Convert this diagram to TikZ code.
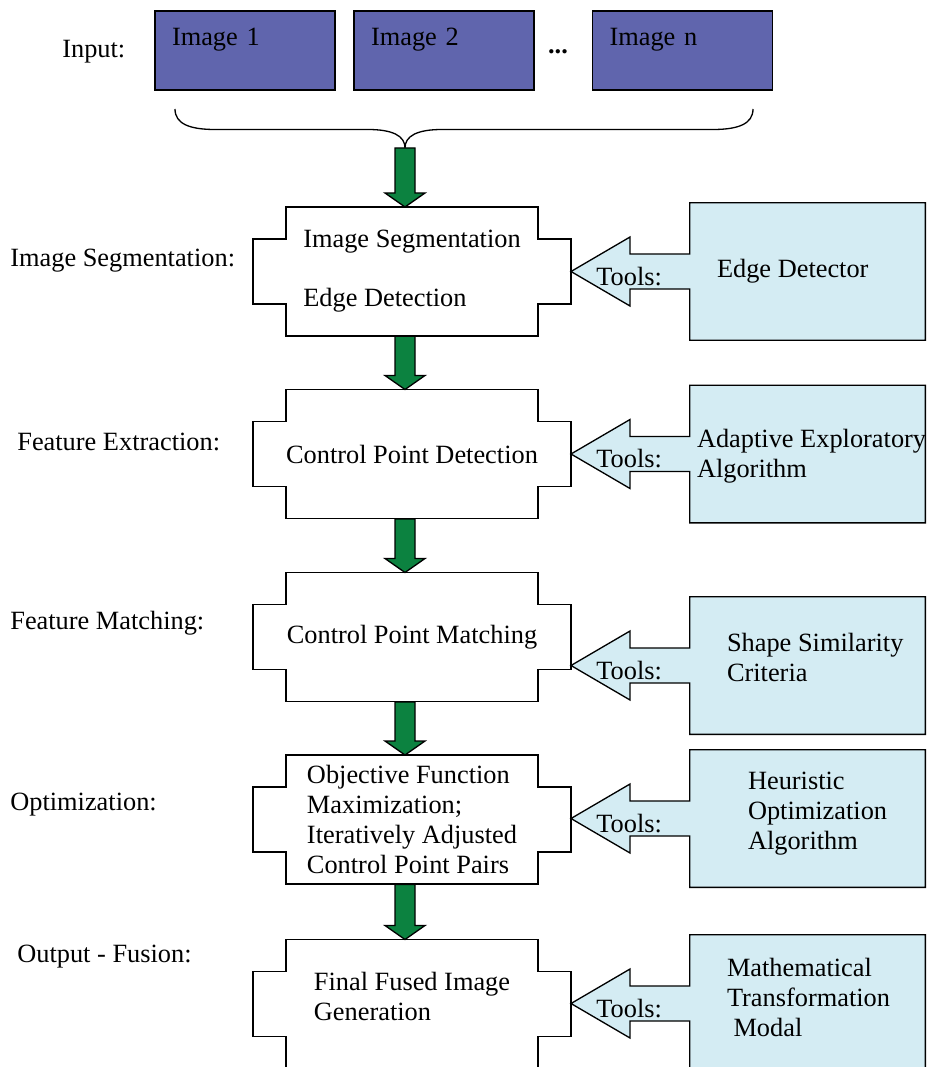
\documentclass[tikz,border=0pt]{standalone}
\usepackage{fontspec}
\setmainfont{Liberation Serif}
\usetikzlibrary{calc}
\definecolor{imgblue}{RGB}{96,101,173}
\definecolor{toolblue}{RGB}{212,236,243}
\definecolor{flowgreen}{RGB}{12,130,64}
\newcommand{\stageoutline}[1]{%
  \draw[stageline] ($(#1.center)+(-126,-64.5)$) -- ++(252,0) -- ++(0,32) -- ++(33,0) -- ++(0,65) -- ++(-33,0)
    -- ++(0,32) -- ++(-252,0) -- ++(0,-32) -- ++(-33,0) -- ++(0,-65) -- ++(33,0) -- cycle;}
\newcommand{\flowarrow}[2]{%
  \draw[flow] ($(#1 -| #2.center)+(-17,0)$) -- ($(#2.center)+(-17,-78.5)$) -- ($(#2.center)+(-27,-78.5)$)
    -- ($(#2.center)+(-7,-64.5)$) -- ($(#2.center)+(13,-78.5)$) -- ($(#2.center)+(3,-78.5)$)
    -- ($(#1 -| #2.center)+(3,0)$) -- cycle;}
\newcommand{\toolarrow}[2]{%
  \draw[toolline] (#1.north west) -- (#1.north east) -- (#1.south east) -- (#1.south west)
    -- ($(#1.west)+(0,17.5)$) -- ($(#2.center |- #1.west)+(218,17.5)$)
    -- ($(#2.center |- #1.west)+(218,34.5)$) -- ($(#2.center |- #1.west)+(159,0)$)
    -- ($(#2.center |- #1.west)+(218,-34.5)$) -- ($(#2.center |- #1.west)+(218,-17.5)$)
    -- ($(#1.west)+(0,-17.5)$) -- cycle;
  \node[toolslabel] (#1tools) at ($(#2.center |- #1.west)+(184,5)$) {Tools:};}

\begin{document}
\begin{tikzpicture}[x=0.02cm, y=-0.02cm]
  \tikzset{
    every node/.style={font=\fontsize{15}{17}\selectfont},
    stagename/.style={anchor=west, inner sep=0pt},
    imgbox/.style={draw, fill=imgblue, line width=0.75pt, minimum width=3.6cm, text width=2.92cm,
      inner xsep=0.34cm, inner ysep=0.1cm, text height=0.6cm, text depth=0.78cm, align=left},
    stage/.style={inner xsep=0pt, inner ysep=0.1cm, minimum height=2.58cm},
    stageline/.style={draw, line width=0.75pt},
    flow/.style={draw, fill=flowgreen, line width=0.75pt},
    toolbox/.style={minimum width=4.7cm, minimum height=2.74cm},
    toolline/.style={draw, fill=toolblue, line width=0.75pt},
    toolslabel/.style={anchor=west, inner sep=0pt},
    tooltext/.style={anchor=west, inner sep=0pt, align=left},
    brace/.style={line width=0.75pt}
  }
  \useasboundingbox (0,0) rectangle (927,1067);

  \node[stagename] (lin) at (62,52) {Input:};
  \node[imgbox] (img1) at (245,50.5) {Image 1};
  \node[imgbox] (img2) at (444,50.5) {Image 2};
  \node (dots) at (558,52) {\textbf{...}};
  \node[imgbox] (imgn) at (682.5,50.5) {Image n};

  \coordinate (brtip) at (405,148);
  \draw[brace] (175,109) .. controls (175,124) and (190,129.5) .. (215,129.5) -- (368,129.5)
    .. controls (393,129.5) and (405,136) .. (brtip)
    .. controls (405,136) and (417,129.5) .. (442,129.5) -- (713,129.5)
    .. controls (738,129.5) and (753,124) .. (753,109);

  \node[stagename] (lseg) at (10,261) {Image Segmentation:};
  \node[stagename] (lfeat) at (17,442) {Feature Extraction:};
  \node[stagename] (lmatch) at (10,623) {Feature Matching:};
  \node[stagename] (loptim) at (10,805) {Optimization:};
  \node[stagename] (lfusion) at (17,957) {Output - Fusion:};

  \node[stage, align=left] (seg) at (412,271.5) {Image Segmentation\\[0.58cm]Edge Detection};
  \node[stage, align=center] (feat) at (412,454) {Control Point Detection};
  \node[stage, align=center] (match) at (412,637) {Control Point Matching};
  \node[stage, align=left] (optim) at (412,819.5) {Objective Function\\Maximization;\\Iteratively Adjusted\\Control Point Pairs};
  \node[stage, align=left] (fusion) at (412,1004) {Final Fused Image\\Generation\\[-0.3cm]};
  \stageoutline{seg}
  \stageoutline{feat}
  \stageoutline{match}
  \stageoutline{optim}
  \stageoutline{fusion}

  \flowarrow{brtip}{seg}
  \flowarrow{seg.south}{feat}
  \flowarrow{feat.south}{match}
  \flowarrow{match.south}{optim}
  \flowarrow{optim.south}{fusion}

  \node[toolbox] (t1) at (807.5,271.5) {};
  \node[toolbox] (t2) at (807.5,454) {};
  \node[toolbox] (t3) at (807.5,665.5) {};
  \node[toolbox] (t4) at (807.5,818.5) {};
  \node[toolbox] (t5) at (807.5,1003.5) {};
  \toolarrow{t1}{seg}
  \toolarrow{t2}{feat}
  \toolarrow{t3}{match}
  \toolarrow{t4}{optim}
  \toolarrow{t5}{fusion}

  \node[tooltext] (t1txt) at ($(t1.west)+(27,0)$) {Edge Detector};
  \node[tooltext] (t2txt) at ($(t2.west)+(7,2)$) {Adaptive Exploratory\\Algorithm};
  \node[tooltext] (t3txt) at ($(t3.west)+(37,-8)$) {Shape Similarity\\Criteria};
  \node[tooltext] (t4txt) at ($(t4.west)+(58,-5)$) {Heuristic\\Optimization\\Algorithm};
  \node[tooltext] (t5txt) at ($(t5.west)+(37,-6)$) {Mathematical\\Transformation\\\hspace*{0.13cm}Modal};
\end{tikzpicture}
\end{document}
